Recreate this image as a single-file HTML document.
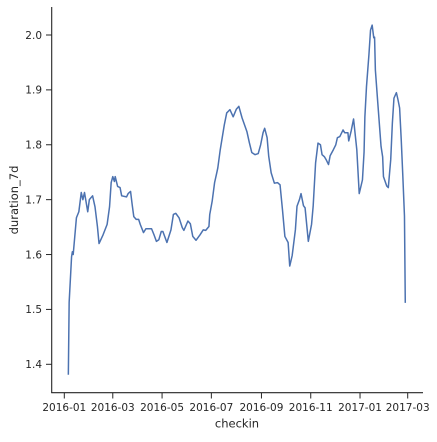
<!DOCTYPE html>
<html><head><meta charset="utf-8"><style>
body{margin:0;background:#fff;}
svg text{font-family:"DejaVu Sans","Liberation Sans",sans-serif;fill:#262626;}
</style></head><body>
<svg id="chart" width="437" height="437" viewBox="0 0 437 437" xmlns="http://www.w3.org/2000/svg">
<g id="axes"></g>
<path id="line" fill="none" stroke="#4c72b0" stroke-width="1.5" stroke-linejoin="round"></path>
</svg>
<script>
const days=[5,6,9,10,11,15,18,21,23,25,29,31,35,38,41,43,48,53,56,58,60,62,63,66,69,71,77,79,82,84,86,89,92,94,98,101,104,107,108,111,114,117,120,122,127,132,135,138,142,146,148,153,156,159,163,168,172,175,179,180,183,186,189,190,193,198,201,205,209,213,216,220,226,229,232,236,240,243,246,248,251,253,256,260,264,267,270,273,277,279,282,286,288,291,293,296,298,302,306,308,311,314,317,319,322,324,327,329,333,336,338,341,345,347,351,352,355,358,362,365,369,371,372,374,377,379,381,383,384,385,388,392,394,395,399,401,404,406,408,411,413,415,417,419,421,422];
const vals=[1.381,1.513,1.596,1.605,1.600,1.667,1.678,1.713,1.700,1.713,1.678,1.700,1.707,1.687,1.651,1.620,1.636,1.655,1.687,1.731,1.742,1.733,1.742,1.724,1.722,1.707,1.705,1.711,1.715,1.691,1.669,1.664,1.664,1.655,1.640,1.647,1.647,1.647,1.647,1.636,1.624,1.627,1.642,1.642,1.622,1.645,1.673,1.675,1.667,1.649,1.644,1.661,1.656,1.633,1.626,1.636,1.645,1.644,1.651,1.673,1.697,1.731,1.751,1.758,1.791,1.836,1.858,1.864,1.851,1.865,1.870,1.849,1.824,1.804,1.786,1.782,1.784,1.800,1.822,1.830,1.813,1.779,1.749,1.730,1.731,1.727,1.682,1.633,1.622,1.579,1.598,1.645,1.688,1.700,1.711,1.689,1.685,1.624,1.655,1.688,1.767,1.803,1.800,1.782,1.778,1.773,1.764,1.780,1.791,1.800,1.813,1.815,1.827,1.822,1.822,1.807,1.825,1.847,1.791,1.711,1.736,1.787,1.851,1.906,1.964,2.009,2.018,1.995,1.996,1.936,1.876,1.797,1.778,1.742,1.725,1.722,1.773,1.839,1.885,1.895,1.882,1.867,1.809,1.742,1.670,1.512];
const xTickDays=[0,60,121,182,244,305,366,425];
const xTickLabels=["2016-01","2016-03","2016-05","2016-07","2016-09","2016-11","2017-01","2017-03"];
const yTicks=[1.4,1.5,1.6,1.7,1.8,1.9,2.0];

const X0=64.3,XS=(407.7-64.3)/425;
function xs(d){return X0+d*XS;}
function ys(v){return 35+(2.0-v)*(364.3-35)/0.6;}

const NS="http://www.w3.org/2000/svg";
const ax=document.getElementById('axes');
function mk(tag,attrs,parent){const e=document.createElementNS(NS,tag);for(const k in attrs)e.setAttribute(k,attrs[k]);(parent||ax).appendChild(e);return e;}

const ls=mk('line',{x1:51.7,y1:7,x2:51.7,y2:392.7,stroke:'#262626','stroke-width':1.1});


const bs=mk('line',{x1:51.2,y1:392.7,x2:423,y2:392.7,stroke:'#262626','stroke-width':1.1});



yTicks.forEach(v=>{
  const y=ys(v);
  const t=mk('line',{x1:46,y1:y,x2:51.7,y2:y,stroke:'#262626','stroke-width':1});
  
  
  const l=mk('text',{x:42,y:y+3.8,'text-anchor':'end','font-size':10.5});
  l.textContent=v.toFixed(1);
  
  
});
xTickDays.forEach((d,i)=>{
  const x=xs(d);
  const t=mk('line',{x1:x,y1:392.7,x2:x,y2:398.5,stroke:'#262626','stroke-width':1});
  
  
  const l=mk('text',{x:x,y:411,'text-anchor':'middle','font-size':10.5});
  l.textContent=xTickLabels[i];
  
  
});
const xt=mk('text',{x:237,y:427.5,'text-anchor':'middle','font-size':11.5});
xt.textContent='checkin';


const yt=mk('text',{x:18,y:200,'text-anchor':'middle','font-size':11.5,transform:'rotate(-90 18 200)'});
yt.textContent='duration_7d';



let d='';
days.forEach((dd,i)=>{d+=(i?'L':'M')+xs(dd).toFixed(2)+','+ys(vals[i]).toFixed(2);});
document.getElementById('line').setAttribute('d',d);
</script>
</body></html>
